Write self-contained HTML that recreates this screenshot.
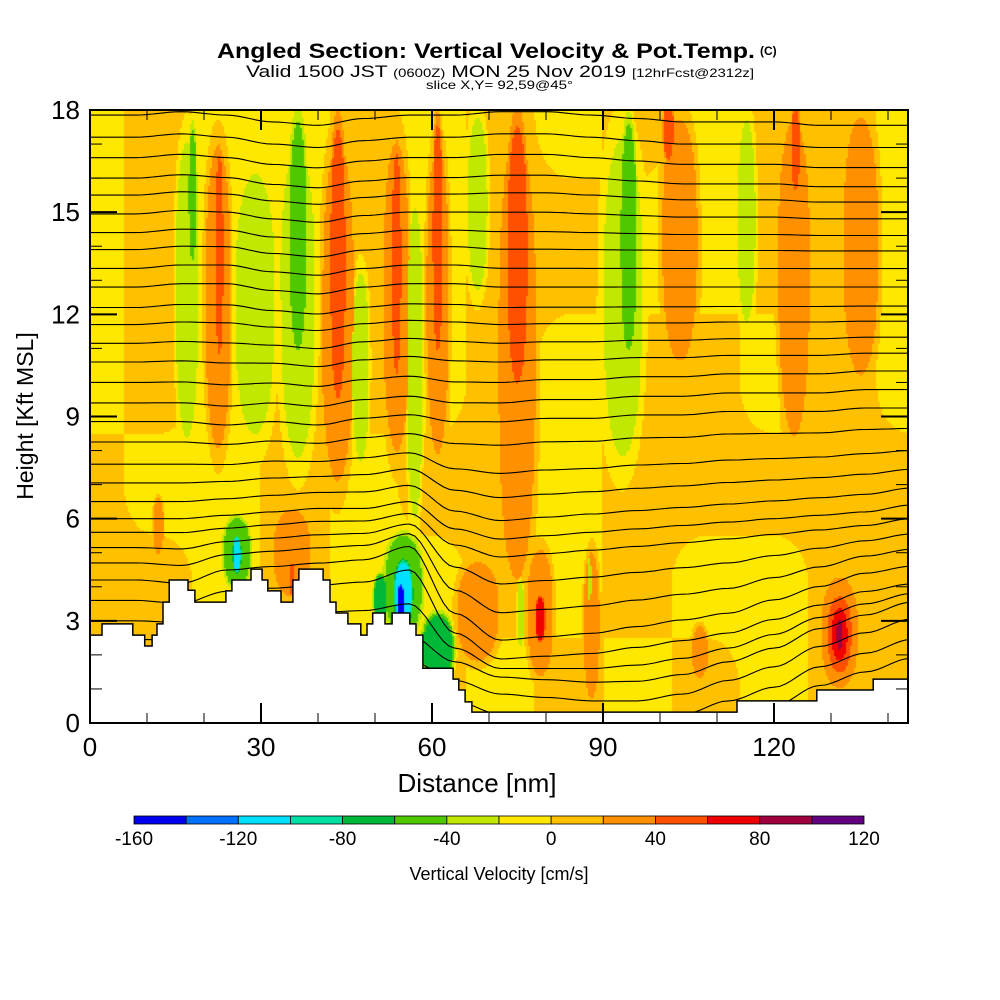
<!DOCTYPE html>
<html><head><meta charset="utf-8">
<style>
html,body{margin:0;padding:0;background:#fff;}
#wrap{position:relative;width:1000px;height:1000px;overflow:hidden;background:#fff;}
#heat{position:absolute;left:90px;top:110px;}
svg{position:absolute;left:0;top:0;}
text{font-family:"Liberation Sans",Arial,sans-serif;}
</style></head>
<body>
<div id="wrap">
<canvas id="heat" width="818" height="613"></canvas>
<svg id="svg" width="1000" height="1000">
  <defs><clipPath id="plotclip"><rect x="90" y="110" width="818" height="613"/></clipPath></defs>
  <g>
    <text x="217" y="58" font-size="21" font-weight="bold" textLength="538" lengthAdjust="spacingAndGlyphs">Angled Section: Vertical Velocity &amp; Pot.Temp.</text>
    <text x="760" y="55" font-size="12" font-weight="bold">(C)</text>
    <text x="246" y="77" font-size="17" textLength="508" lengthAdjust="spacingAndGlyphs">Valid 1500 JST <tspan font-size="12">(0600Z)</tspan> MON 25 Nov 2019 <tspan font-size="12">[12hrFcst@2312z]</tspan></text>
    <text x="426" y="89" font-size="12" textLength="147" lengthAdjust="spacingAndGlyphs">slice X,Y= 92,59@45°</text>
  </g>
  <g id="contours" clip-path="url(#plotclip)"></g>
  <path id="terrain" fill="#fff" stroke="#000" stroke-width="1.5"/>
  <g id="ticks"></g>
  <rect x="90" y="110" width="818" height="613" fill="none" stroke="#000" stroke-width="2"/>
  <g id="ylabels"></g>
  <g id="xlabels"></g>
  <text x="477" y="792" font-size="26" text-anchor="middle">Distance [nm]</text>
  <text transform="translate(33,416) rotate(-90)" font-size="23" text-anchor="middle">Height [Kft MSL]</text>
  <g id="colorbar"></g>
  <text x="499" y="880" font-size="18" text-anchor="middle">Vertical Velocity [cm/s]</text>
</svg>
</div>
<script>
// ---- data ----
const levelColors = ["#0000f0","#0070ff","#00e0ff","#00e0a0","#00b838","#50c800","#c0e800","#ffe800","#ffc000","#ff9000","#ff5000","#f00000","#a00040","#600080"];
const levelTicks = [-160,-120,-80,-40,0,40,80,120];
const xTicks = [0,30,60,90,120];
const yTicks = [0,3,6,9,12,15,18];
// background field grid (cm/s)
const baseX = [0,12,24,36,48,60,72,84,96,108,120,132,144];
const baseZ = [1,4,7,10,14,18];
const base1 = [8,8,8,8,8,8,-8,8,-8,8,-8,8,8];
const base4 = [8,8,-8,8,-8,-8,8,-8,8,-8,-8,8,8];
const base7 = [8,-8,-8,8,-8,8,8,-8,8,8,8,8,8];
const base10 = [-8,8,-8,8,8,-8,8,-8,8,8,-8,8,-8];
const base14 = [-8,8,-8,-8,8,-8,8,8,-8,-8,8,8,-8];
const base18 = [-8,8,-8,-8,8,-8,8,-8,8,-8,8,8,-8];
// velocity cells/stripes: center nm, half-width nm, bottom kft, top kft, value cm/s
const anomX = [17,18,22.5,22.7,29,36.5,36.5,43.5,43.5,47.5,53.8,53.8,57,61,61,68,75,75,93.5,94.5,103.5,101.5,115.2,123.5,123.8,135.3,79,79,131.5,131.5,131.5,131.5,75.5,25.8,25.8,55,55,54.5,61,51,35.4,35.4,68,87.6,88,107,12];
const anomW = [2.2,0.8,2.5,0.8,4,3.5,1.7,3,1.5,1.7,2.5,0.9,1.5,2.2,1,2,3.5,2,4,1.6,3.5,1,1.8,3,0.8,3.3,2.5,1,3.3,2.4,1.6,0.6,0.7,2.5,0.8,3.5,1.8,0.7,3,1.3,3.5,0.5,4,0.5,1.5,1.5,1];
const anomZ0 = [7.5,13,7,10,7.5,6.5,10,6,8.5,7,7,9.5,5,7,10,12,3,9,6.5,10,10,16.3,11,7.5,15.3,9.5,1,2.2,0.8,1.2,1.6,2.0,2,3.8,4.3,2.3,2.6,2.9,1,2.8,3.5,3.7,1.5,3.4,0.3,1.2,4.8];
const anomZ1 = [18,18,18,17.5,17,18,18.5,18,18.5,14,18,17.5,16,18,18.5,18.5,18.5,18.5,18.5,18.5,18.5,18.5,18.5,18.5,18.5,18.5,5.5,3.9,4.5,4,3.6,3.2,4.5,6.2,5.6,5.8,5.0,4.2,3.4,4.5,6.5,4.8,5,5,5.5,3,6.8];
const anomV = [-30,-45,30,50,-25,-25,-50,30,50,-25,30,55,-30,30,50,-25,30,50,-25,-50,30,50,-25,30,50,30,30,60,35,50,70,90,-25,-60,-110,-60,-105,-145,-70,-70,30,55,30,-30,30,30,30];
// terrain steps: start nm, top kft
const terrX = [0,2.1,7.5,9.6,10.9,11.75,12.8,13.9,17.2,18.4,23.85,24.9,28.25,30.2,31.2,33.5,35.6,36.65,40.9,42.1,43.15,45.25,47.5,48.6,49.6,51.75,53.0,56.1,57.2,58.4,63.7,64.7,65.8,67.0,113.5,127.5,137.4];
const terrZ = [2.58,2.91,2.58,2.26,2.58,2.91,3.55,4.2,3.9,3.55,3.88,4.2,4.52,4.2,3.88,3.55,4.2,4.52,4.2,3.55,3.23,2.91,2.58,2.91,3.23,2.91,3.23,2.91,2.58,1.61,1.29,0.97,0.62,0.32,0.65,0.97,1.29];
// potential temperature contour lines: height at left edge (kft)
const lineZ0 = [17.85,17.2,16.6,16.0,15.5,14.95,14.4,13.9,13.35,12.8,12.2,11.7,11.15,10.6,10.0,9.4,8.85,8.25,7.6,7.05,6.5,6.0,5.6,5.15,4.7,4.2,3.6,3.0,2.45,1.85,1.25,0.7];
// displacement of contours (kft) at knots every 8 nm, per reference level
const dispX = [0,8,16,24,32,40,48,56,64,72,80,88,96,104,112,120,128,136,144];
const dispLevels = [2,4,6,9,13,17];
const disp2 = [0,0,0,0,0,0,0,0,-0.6,-1.0,-1.1,-1.2,-1.2,-1.0,-0.6,-0.2,0.4,0.8,1.2];
const disp4 = [0,0,-0.1,0.3,0.4,0.5,0.6,1.0,-1.0,-1.8,-1.7,-1.6,-1.4,-1.2,-1.0,-0.6,-0.2,0.2,0.4];
const disp6 = [0,0,0,0.1,0.2,0.3,0.3,0.5,-0.3,-0.6,-0.5,-0.4,-0.3,-0.2,-0.1,0.0,0.1,0.2,0.4];
const disp9 = [0,0,0,-0.1,0,-0.1,0.1,0.2,0,0,0.1,0.1,0.2,0.2,0.3,0.3,0.3,0.4,0.4];
const disp13 = [0,0,0.1,0.1,-0.1,-0.2,0,0.1,0.1,0,0,0,0,0,0,0,0,0,0];
const disp17 = [0,0,0.1,0,-0.2,-0.3,-0.1,0,0,0.1,0.1,0,-0.1,-0.2,-0.2,-0.2,-0.3,-0.3,-0.3];

// ---- axes ----
const X0=90, X1=908, Y0=723, Y1=110;
const xScale = nm => X0 + nm*5.7;
const yScale = z => Y0 - z*(Y0-Y1)/18;
const NS="http://www.w3.org/2000/svg";
function mk(tag, attrs, parent){const e=document.createElementNS(NS,tag);for(const k in attrs)e.setAttribute(k,attrs[k]);parent.appendChild(e);return e;}
function interp(xs, ys, x){
  if(x<=xs[0])return ys[0]; if(x>=xs[xs.length-1])return ys[ys.length-1];
  for(let i=0;i<xs.length-1;i++){if(x<=xs[i+1]){const t=(x-xs[i])/(xs[i+1]-xs[i]);const s=t*t*(3-2*t);return ys[i]+(ys[i+1]-ys[i])*s;}}
}
function levelIndex(v){return Math.max(0,Math.min(13,Math.floor((v+160)/20)));}

// ---- heatmap ----
const baseRows=[base1,base4,base7,base10,base14,base18];
function baseVal(nm,z){const col=baseRows.map(r=>interp(baseX,r,nm));return interp(baseZ,col,z);}
function field(nm,z){
  const b=baseVal(nm,z); let best=0,bs=0,bv=0;
  for(let i=0;i<anomX.length;i++){
    const dx=(nm-anomX[i])/(anomW[i]*1.15); if(Math.abs(dx)>=1)continue;
    const zc=(anomZ0[i]+anomZ1[i])/2, hh=(anomZ1[i]-anomZ0[i])/2;
    const dz=(z-zc)/hh; if(Math.abs(dz)>=1)continue;
    const r=Math.sqrt(dx*dx+Math.pow(Math.abs(dz),2.6)); if(r>=1)continue;
    const s=Math.min(1,3*(1-r)); const c=Math.abs(anomV[i])*s;
    if(c>best){best=c;bs=s;bv=anomV[i];}
  }
  return b*(1-bs)+bv*bs;
}
const ctx=document.getElementById('heat').getContext('2d');
const step=2;
for(let py=0;py<613;py+=step){
  const z=(613-py-step/2)*18/613;
  for(let px=0;px<818;px+=step){
    const nm=(px+step/2)/5.7;
    ctx.fillStyle=levelColors[levelIndex(field(nm,z))];
    ctx.fillRect(px,py,step,step);
  }
}

// ---- contours ----
const dispRows=[disp2,disp4,disp6,disp9,disp13,disp17];
const cg=document.getElementById('contours');
lineZ0.forEach((z0,li)=>{
  let d='';
  for(let nm=0;nm<=144;nm+=1){
    const col=dispRows.map(r=>interp(dispX,r,nm));
    const z=z0+interp(dispLevels,col,z0);
    d+=(nm===0?'M':'L')+xScale(nm).toFixed(1)+','+yScale(z).toFixed(1);
  }
  const p=mk('path',{d:d,fill:'none',stroke:'#000','stroke-width':1.1},cg);
  
  
});

// ---- terrain ----
let td='M'+xScale(0)+','+yScale(0);
for(let i=0;i<terrX.length;i++){
  const xs=xScale(terrX[i]), xe=xScale(i+1<terrX.length?terrX[i+1]:143.5);
  td+='L'+xs.toFixed(1)+','+yScale(terrZ[i]).toFixed(1)+'L'+xe.toFixed(1)+','+yScale(terrZ[i]).toFixed(1);
}
td+='L'+X1+','+yScale(0)+'Z';
document.getElementById('terrain').setAttribute('d',td);

// ---- ticks ----
const tg=document.getElementById('ticks');
for(let nm=0;nm<=140;nm+=10){
  const x=xScale(nm), L=(nm%30===0)?20:10;
  mk('line',{x1:x,y1:Y0,x2:x,y2:Y0-L,stroke:'#000','stroke-width':nm%30===0?2:1},tg);
  mk('line',{x1:x,y1:Y1,x2:x,y2:Y1+L,stroke:'#000','stroke-width':nm%30===0?2:1},tg);
}
for(let z=0;z<=18;z+=1){
  const y=yScale(z), L=(z%3===0)?27:12;
  mk('line',{x1:X0,y1:y,x2:X0+L,y2:y,stroke:'#000','stroke-width':z%3===0?2:1},tg);
  mk('line',{x1:X1,y1:y,x2:X1-L,y2:y,stroke:'#000','stroke-width':z%3===0?2:1},tg);
}
const yl=document.getElementById('ylabels');
yTicks.forEach(v=>{const t=mk('text',{x:80,y:yScale(v)+9,'font-size':26,'text-anchor':'end'},yl);t.textContent=v;
  });
const xl=document.getElementById('xlabels');
xTicks.forEach(v=>{const t=mk('text',{x:xScale(v),y:756,'font-size':26,'text-anchor':'middle'},xl);t.textContent=v;
  });

// ---- colorbar ----
const cb=document.getElementById('colorbar');
const cbX0=134, cbW=730/levelColors.length;
levelColors.forEach((c,i)=>{const r=mk('rect',{x:cbX0+i*cbW,y:816,width:cbW,height:8,fill:c,stroke:'#000','stroke-width':0.8},cb);
  });
levelTicks.forEach(v=>{const t=mk('text',{x:cbX0+(v+160)/20*cbW,y:845,'font-size':19,'text-anchor':'middle'},cb);t.textContent=v;
  });
</script>
</body></html>
